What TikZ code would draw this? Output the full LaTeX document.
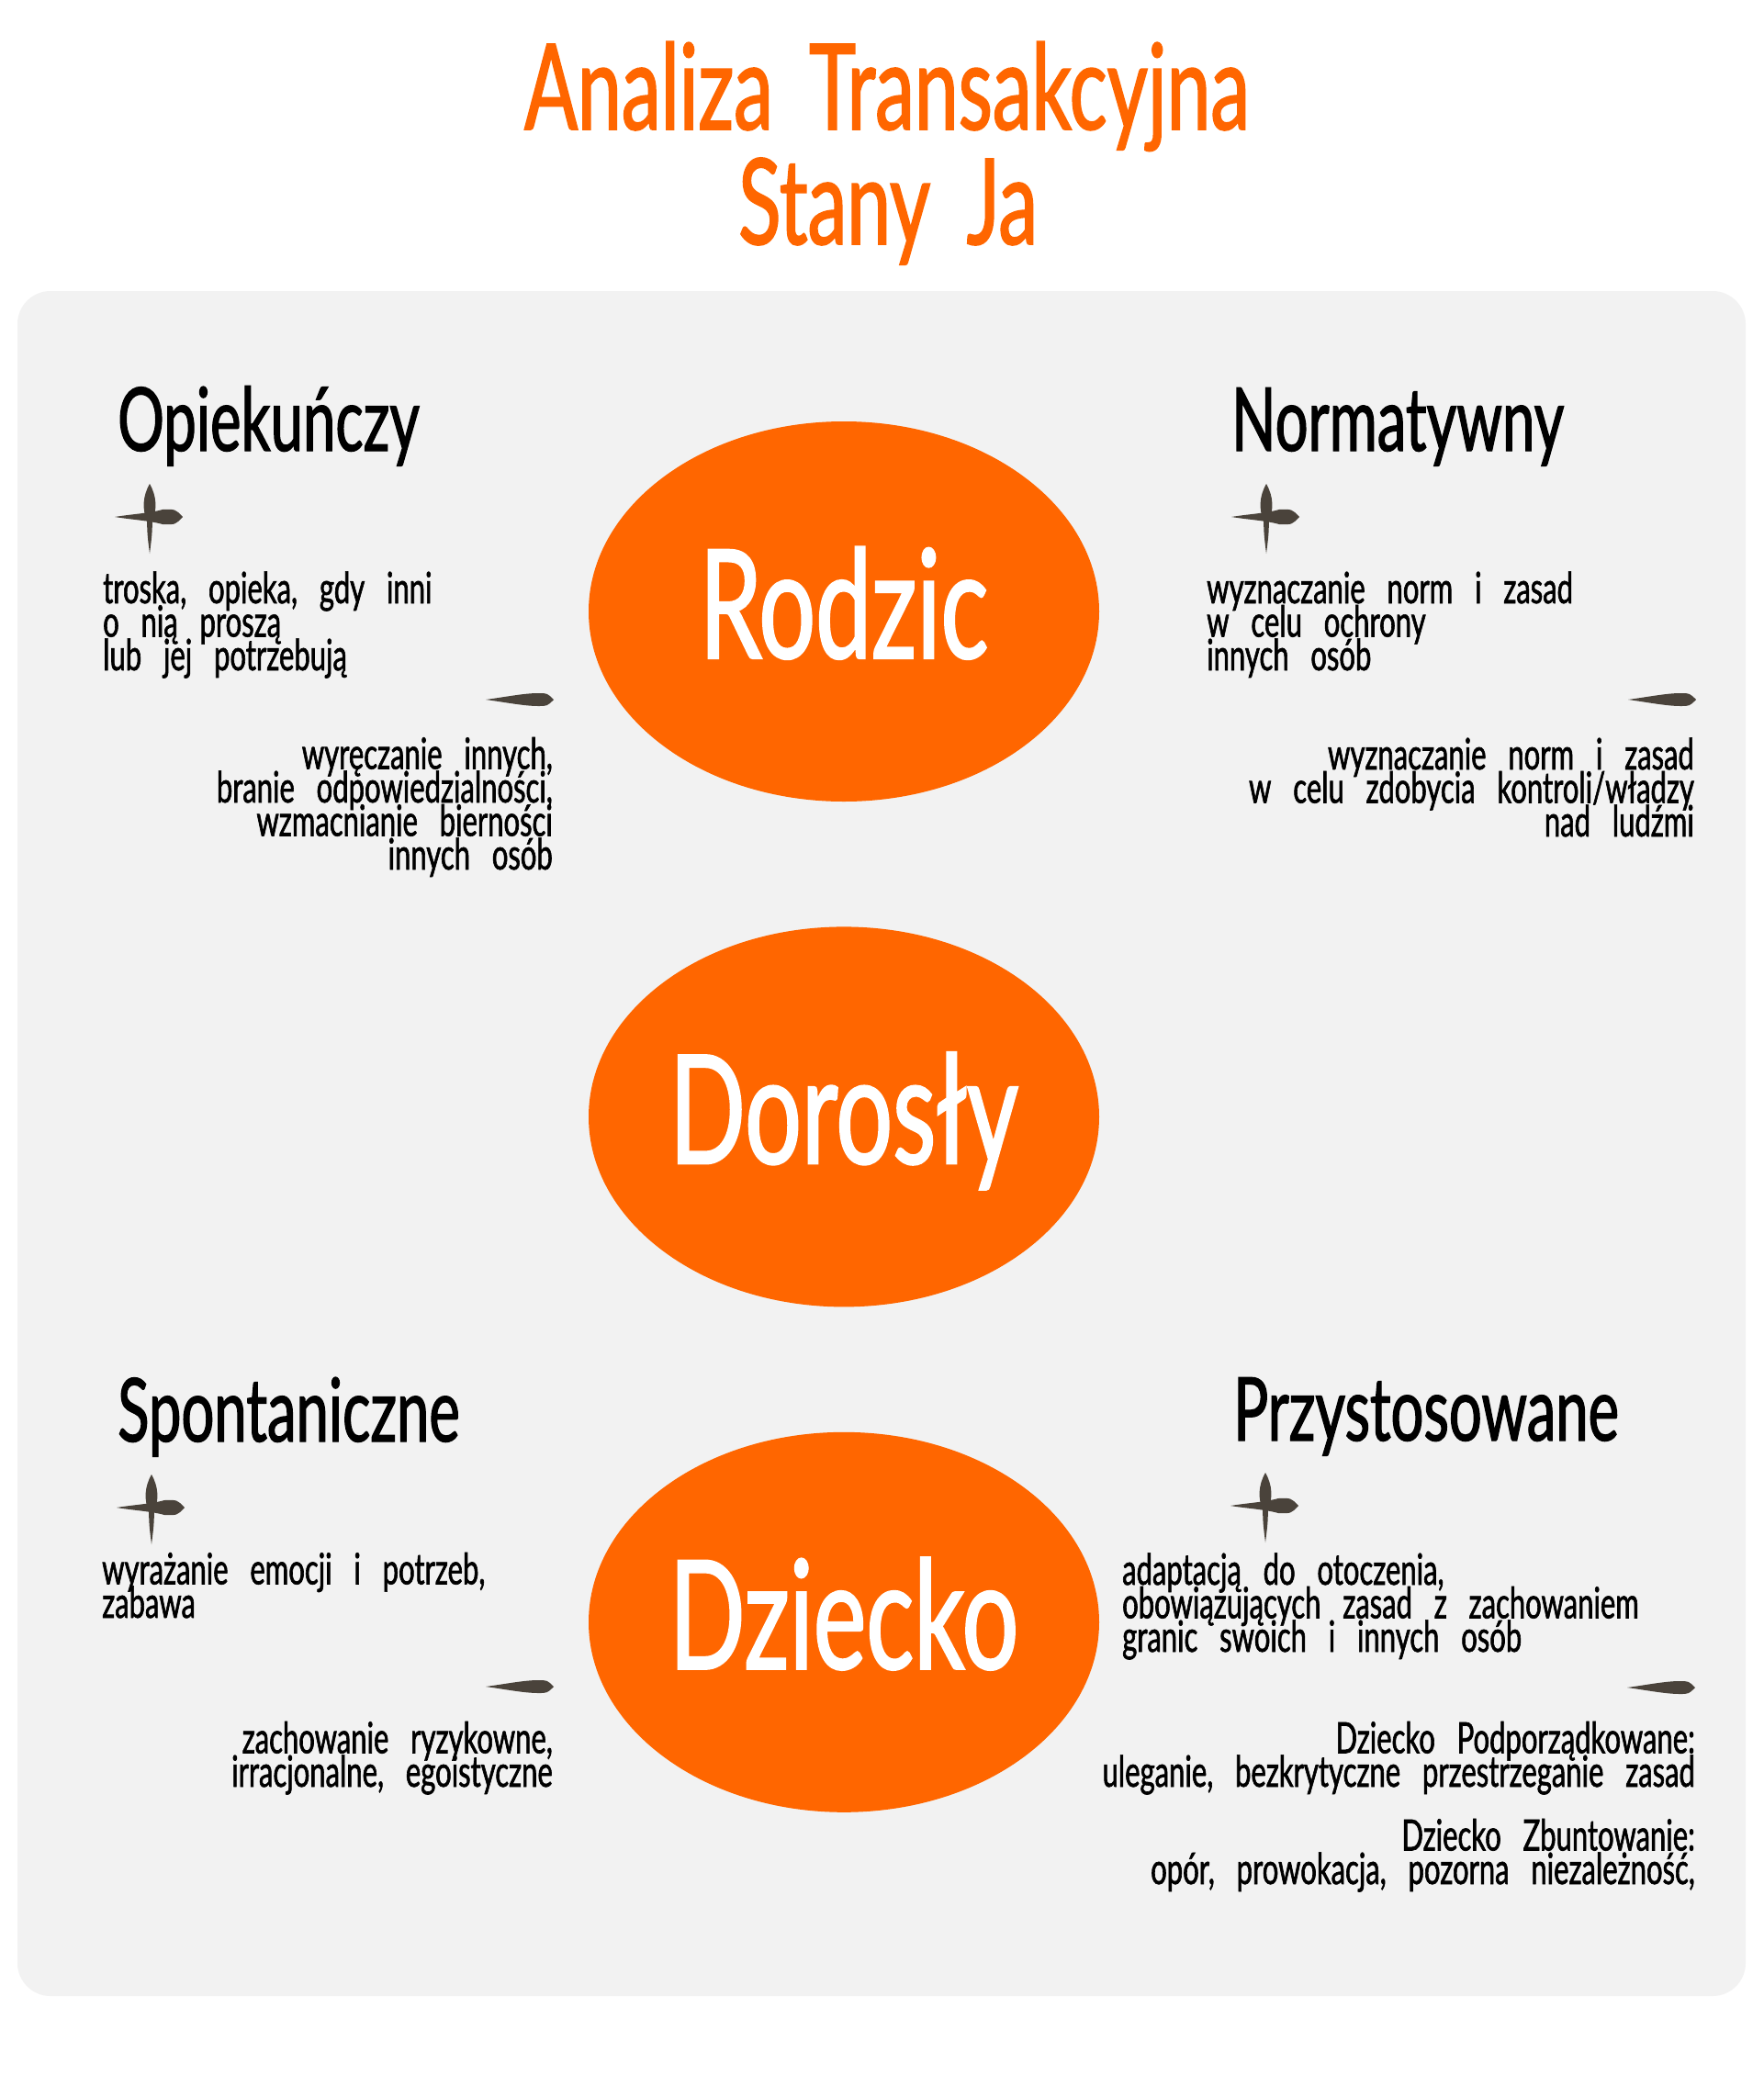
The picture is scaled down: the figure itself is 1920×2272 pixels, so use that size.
\documentclass[tikz,border=0pt]{standalone}
\usepackage{fontspec}
\setmainfont{Lato}[FakeStretch=0.66,WordSpace=3,FakeBold=1.3]
\newfontfamily\titleFamily{Lato}[FakeStretch=0.66,WordSpace=1.8,FakeBold=1.3]
\usetikzlibrary{shapes.geometric,positioning}
\definecolor{panelColor}{HTML}{F2F2F2}
\definecolor{stateColor}{HTML}{FF6600}
\definecolor{markColor}{HTML}{4A433B}
\newcommand{\bodyFont}{\fontsize{47}{36.5}\selectfont\lineskiplimit-100pt\relax}
\tikzset{
  state/.style={ellipse,fill=stateColor,text=white,inner sep=0pt,
    minimum width=556pt,minimum height=414pt,
    font=\fontsize{165}{165}\selectfont,text height=102pt,text depth=0pt},
  title/.style={anchor=base,inner sep=0pt,text=stateColor,
    font=\titleFamily\fontsize{130}{130}\selectfont},
  heading/.style={anchor=base west,inner sep=0pt,
    font=\fontsize{96}{96}\selectfont},
  bodyL/.style={anchor=base west,align=left,inner sep=0pt,font=\bodyFont},
  bodyR/.style={anchor=base east,align=right,inner sep=0pt,font=\bodyFont},
  plussign/.pic={
    \fill[markColor] (0,-36) .. controls (8,-22) and (8,-8) .. (3,4)
      .. controls (2.5,20) .. (0,40) .. controls (-2.5,20) .. (-3,4)
      .. controls (-8,-8) and (-8,-22) .. cycle;
    \fill[markColor] (-38,0) .. controls (-20,-3) and (0,-4) .. (14,-8)
      .. controls (28,-8.5) .. (36,0) .. controls (28,8.5) .. (14,8)
      .. controls (0,4) and (-20,3) .. cycle;
  },
  minussign/.pic={
    \fill[markColor] (-37,0) .. controls (-15,-3) and (5,-7) .. (20,-7)
      .. controls (30,-7) .. (37,0) .. controls (30,7) .. (20,7)
      .. controls (5,7) and (-15,3) .. cycle;
  }
}

\begin{document}
\begin{tikzpicture}[x=1pt,y=-1pt]

  \useasboundingbox (0,0) rectangle (1920,2272);
  \fill [white] (0,0) rectangle (1920,2272);
  \fill [panelColor,rounded corners=36pt] (19,317) rectangle (1901,2174);

  % title
  \node [title] (title) at (966,141) {Analiza Transakcyjna};
  \node [title] (subtitle) at (967,266) {Stany Ja};

  % ego states
  \node [state] (rodzic) at (919,666) {Rodzic};
  \node [state,below=136pt of rodzic] (dorosly) {Dorosły};
  \node [state,below=136pt of dorosly] (dziecko) {Dziecko};

  % Rodzic (base = last line)
  \node [heading] (opiekunczy) at (128,491) {Opiekuńczy};
  \pic at (163,563) {plussign};
  \node [bodyL] (opiekunczyPlus) at (112,730)
    {troska, opieka, gdy inni\\o nią proszą\\lub jej potrzebują};
  \pic at (566,762) {minussign};
  \node [bodyR] (opiekunczyMinus) at (602,947)
    {wyręczanie innych,\\branie odpowiedzialności,\\wzmacnianie bierności\\innych osób};

  \node [heading] (normatywny) at (1341,491) {Normatywny};
  \pic at (1379,563) {plussign};
  \node [bodyL] (normatywnyPlus) at (1314,730)
    {wyznaczanie norm i zasad\\w celu ochrony\\innych osób};
  \pic at (1810,762) {minussign};
  \node [bodyR] (normatywnyMinus) at (1845,911)
    {wyznaczanie norm i zasad\\w celu zdobycia kontroli/władzy\\nad ludźmi};

  % Dziecko
  \node [heading] (spontaniczne) at (128,1570) {Spontaniczne};
  \pic at (165,1642) {plussign};
  \node [bodyL] (spontanicznePlus) at (111,1762)
    {wyrażanie emocji i potrzeb,\\zabawa};
  \pic at (566,1837) {minussign};
  \node [bodyR] (spontaniczneMinus) at (602,1946)
    {zachowanie ryzykowne,\\irracjonalne, egoistyczne};

  \node [heading] (przystosowane) at (1343,1569) {Przystosowane};
  \pic at (1378,1640) {plussign};
  \node [bodyL] (przystosowanePlus) at (1222,1799)
    {adaptacją do otoczenia,\\obowiązujących zasad z zachowaniem\\granic swoich i innych osób};
  \pic at (1809,1838) {minussign};
  \node [bodyR] (podporzadkowane) at (1846,1946)
    {Dziecko Podporządkowane:\\uleganie, bezkrytyczne przestrzeganie zasad};
  \node [bodyR] (zbuntowane) at (1846,2052)
    {Dziecko Zbuntowanie:\\opór, prowokacja, pozorna niezależność,};

\end{tikzpicture}
\end{document}
